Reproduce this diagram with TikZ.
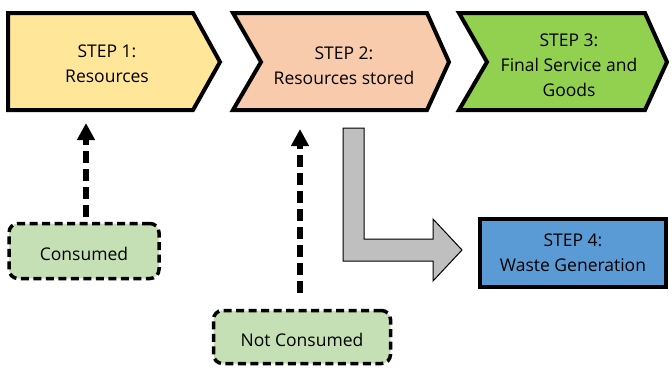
\documentclass[tikz,border=0pt]{standalone}
\usepackage{fontspec}
\setmainfont{Open Sans}
\usetikzlibrary{arrows.meta}
\definecolor{yel}{HTML}{FFE699}
\definecolor{peach}{HTML}{F8CBAD}
\definecolor{grn}{HTML}{92D050}
\definecolor{blu}{HTML}{5B9BD5}
\definecolor{lgrn}{HTML}{C5E0B4}
\definecolor{gry}{HTML}{BFBFBF}
\tikzset{
  stepline/.style={draw=black, line width=4pt, line join=miter},
  steptext/.style={align=center, font=\fontsize{17.5}{25}\selectfont, inner sep=0pt},
  dashbox/.style={draw=black, fill=lgrn, line width=3.5pt, rounded corners=9pt,
    dash pattern=on 8pt off 4.5pt, align=center, inner sep=0pt,
    font=\fontsize{17.5}{25}\selectfont},
  dasharrow/.style={draw=black, line width=5.5pt, dash pattern=on 12pt off 6pt,
    -{Triangle[length=17pt,width=17pt]}},
}
\begin{document}
\begin{tikzpicture}[x=1pt,y=-1pt]
\useasboundingbox (0,0) rectangle (672,367);
% step 1
\draw[stepline, fill=yel] (8,13) -- (193,13) -- (220,62) -- (193,110) -- (8,110) -- cycle;
\node[steptext] (s1) at (107,64) {STEP 1:\\Resources};
\coordinate (s1in) at (86,123);
% step 2
\draw[stepline, fill=peach] (233,13) -- (427,13) -- (449,62) -- (427,110) -- (233,110) -- (261,62) -- cycle;
\node[steptext] (s2) at (344,66) {STEP 2:\\Resources stored};
\coordinate (s2in) at (300,129);
% step 3
\draw[stepline, fill=grn] (459,13) -- (645,13) -- (667,62) -- (645,110) -- (459,110) -- (487,62) -- cycle;
\node[steptext] (s3) at (569,65) {STEP 3:\\Final Service and\\Goods};
% step 4
\node[stepline, fill=blu, minimum width=186pt, minimum height=68pt, steptext] (s4) at (573,253) {STEP 4:\\Waste Generation};
% gray arrow
\draw[draw=black, line width=1pt, fill=gry, line join=miter]
  (343,128) -- (364,128) -- (364,239) -- (433,239) -- (433,219) -- (462,250)
  -- (433,281) -- (433,261) -- (343,261) -- cycle;
% consumed boxes
\node[dashbox, minimum width=150pt, minimum height=55pt] (c) at (84,251) {\raisebox{-3pt}[\height][\depth]{Consumed}};
\node[dashbox, minimum width=177pt, minimum height=53pt] (nc) at (302,337) {\raisebox{-3pt}[\height][\depth]{Not Consumed}};
\draw[dasharrow, shorten <=5pt] (c.north -| s1in) -- (s1in);
\draw[dasharrow, shorten <=16pt] (nc.north -| s2in) -- (s2in);
\end{tikzpicture}
\end{document}
